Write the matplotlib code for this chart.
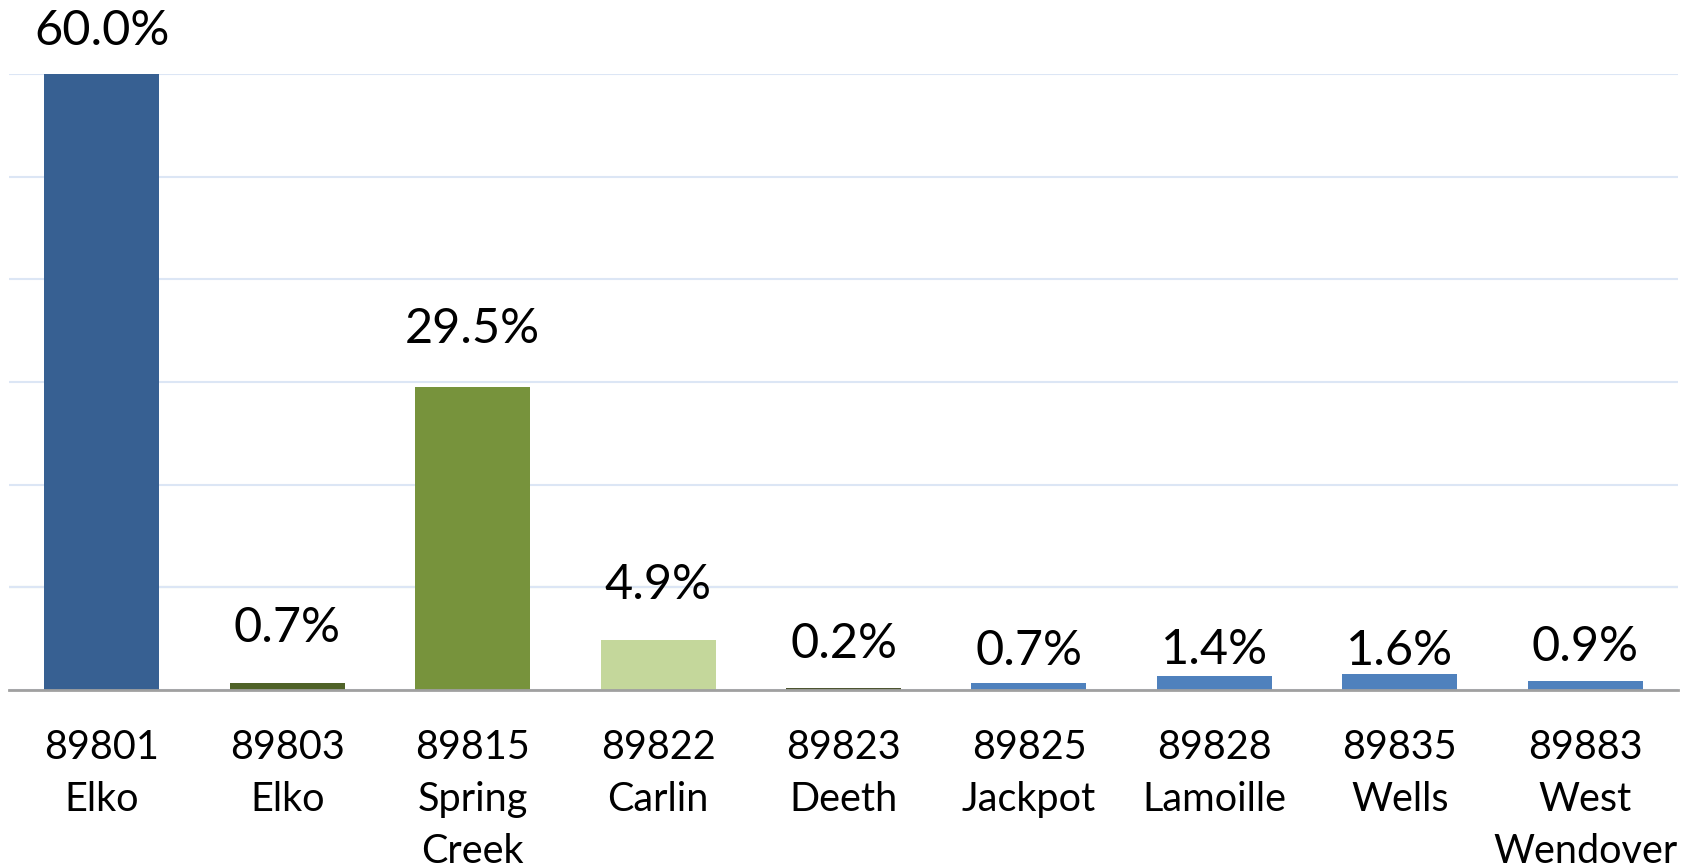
import numpy as np
import matplotlib
matplotlib.use("Agg")
import matplotlib.pyplot as plt

# data
zips = ['89801', '89803', '89815', '89822', '89823', '89825', '89828', '89835', '89883']
towns = ['Elko', 'Elko', 'Spring\nCreek', 'Carlin', 'Deeth', 'Jackpot', 'Lamoille', 'Wells', 'West\nWendover']
shares = [60.0, 0.7, 29.5, 4.9, 0.2, 0.7, 1.4, 1.6, 0.9]

# styling
colors = ['#376092', '#4F6228', '#77933C', '#C4D79B', '#4D5530',
          '#4F81BD', '#4F81BD', '#4F81BD', '#4F81BD']
label_gap = [29, 41, 44, 41, 30, 18, 12, 9, 20]   # pixels between bar top and label baseline

plt.rcParams['font.family'] = ['Lato', 'DejaVu Sans']

fig = plt.figure(figsize=(16.94, 8.68), dpi=100)
ax = fig.add_axes([9 / 1694, 178 / 868, 1669 / 1694, 616 / 868])

x = np.arange(len(zips))
ax.bar(x, shares, width=0.62, color=colors, zorder=3)

ax.set_xlim(-0.5, len(zips) - 0.5)
ax.set_ylim(0, 60)
ax.set_yticks(np.arange(0, 61, 10))
ax.yaxis.grid(True, color='#DCE6F5', linewidth=1.5, zorder=0)
ax.axhline(10, color='#AFC4AF', linewidth=1.5, zorder=1)
ax.tick_params(axis='y', left=False, labelleft=False)

for s in ['top', 'right', 'left']:
    ax.spines[s].set_visible(False)
ax.spines['bottom'].set_color('#A0A0A0')
ax.spines['bottom'].set_linewidth(2)
ax.spines['bottom'].set_zorder(4)

ax.set_xticks(x)
ax.set_xticklabels([z + '\n' + t for z, t in zip(zips, towns)],
                   fontsize=28.5, linespacing=1.5)
ax.tick_params(axis='x', length=0, pad=28)

for xi, v, g in zip(x, shares, label_gap):
    ax.annotate(f'{v:.1f}%', (xi, v), xytext=(0, g), textcoords='offset pixels',
                ha='center', va='baseline', fontsize=35, clip_on=False)

fig.savefig('out.png', dpi=100)
